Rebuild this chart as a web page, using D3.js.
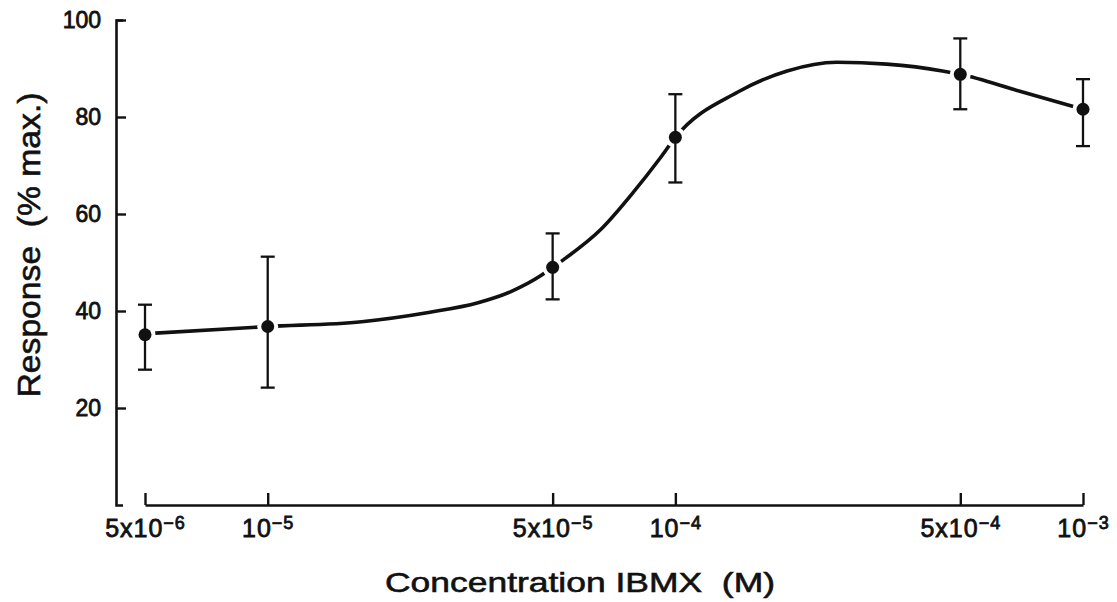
<!DOCTYPE html>
<html>
<head>
<meta charset="utf-8">
<script src="https://cdn.jsdelivr.net/npm/d3@7"></script>
<style>
  html, body { margin: 0; padding: 0; background: #ffffff; }
  svg { display: block; }
  text { font-family: "Liberation Sans", Arial, Helvetica, sans-serif; fill: #111; }
</style>
</head>
<body>
<svg id="chart" width="1117" height="602"></svg>
<script>
// IBMX concentration (M) and mean response (% of max.) with error bar limits
const concentrations = [5e-6, 1e-5, 5e-5, 1e-4, 5e-4, 1e-3];
const responses      = [35.1, 36.8, 49.0, 75.8, 88.8, 81.6];
const errorHigh      = [41.3, 51.2, 56.0, 84.7, 96.2, 87.8];
const errorLow       = [27.9, 24.2, 42.4, 66.5, 81.6, 74.0];

// Fitted dose-response curve
const fitConc = [5e-6, 1e-5, 1.7e-5, 2.48e-5, 3.28e-5, 3.95e-5, 4.68e-5, 5e-5, 5.32e-5,
                 6.56e-5, 7.89e-5, 9.19e-5, 1e-4, 1.42e-4, 1.88e-4, 2.49e-4, 3.3e-4,
                 4.52e-4, 5e-4, 7e-4, 1e-3];
const fitResp = [35.3, 36.8, 37.8, 39.7, 41.7, 44.0, 47.3, 49.0, 50.6,
                 56.8, 64.5, 71.6, 75.8, 85.1, 89.5, 91.3, 90.9,
                 89.5, 88.8, 85.3, 81.6];

// Axis ticks
const xTickValues = [5e-6, 1e-5, 5e-5, 1e-4, 5e-4, 1e-3];
const xTickBase   = ["5x10", "10", "5x10", "10", "5x10", "10"];
const xTickExp    = ["\u22126", "\u22125", "\u22125", "\u22124", "\u22124", "\u22123"];
const yTickValues = [20, 40, 60, 80, 100];

const xTitle = "Concentration IBMX\u00a0\u00a0(M)";
const yTitle = "Response\u00a0\u00a0(% max.)";

const svg = d3.select("#chart");

const x = d3.scaleLog().domain([5e-6, 1e-3]).range([145, 1083]);
const y = d3.scaleLinear().domain([0, 100]).range([505, 20]);

// Y axis: ticks point inward, labels on the left
const yAxis = svg.append("g")
  .attr("transform", "translate(116,0)")
  .call(d3.axisLeft(y).tickValues(yTickValues).tickSize(-10).tickSizeOuter(-7).tickPadding(15));
yAxis.select(".domain").attr("stroke", "#111").attr("stroke-width", 2.6).attr("fill", "none");
yAxis.selectAll(".tick line").attr("stroke", "#111").attr("stroke-width", 2.4);
yAxis.selectAll(".tick text")
  .attr("font-size", 23).attr("fill", "#111")
  .attr("stroke", "#111").attr("stroke-width", 0.8);

// X axis: separate baseline with upward ticks
const xAxis = svg.append("g")
  .attr("transform", "translate(0,505)")
  .call(d3.axisBottom(x).tickValues(xTickValues).tickSize(-12).tickSizeOuter(0).tickPadding(14));
xAxis.select(".domain").attr("stroke", "#111").attr("stroke-width", 2.6).attr("fill", "none");
xAxis.selectAll(".tick line").attr("stroke", "#111").attr("stroke-width", 2.4);
xAxis.selectAll(".tick text").each(function(d, i) {
  const t = d3.select(this);
  t.text(null)
    .attr("font-size", 25).attr("fill", "#111")
    .attr("letter-spacing", 1)
    .attr("stroke", "#111").attr("stroke-width", 0.8);
  t.append("tspan").text(xTickBase[i]);
  t.append("tspan").attr("font-size", 18).attr("dy", "-0.45em").text(xTickExp[i]);
});

// Fitted curve
const line = d3.line()
  .x((d, i) => x(fitConc[i]))
  .y((d, i) => y(fitResp[i]))
  .curve(d3.curveMonotoneX);

svg.append("path")
  .datum(fitResp)
  .attr("d", line)
  .attr("fill", "none")
  .attr("stroke", "#111")
  .attr("stroke-width", 3.6)
  .attr("stroke-linecap", "round");

// White gaps where the curve meets each point
svg.append("g").selectAll("circle")
  .data(responses)
  .join("circle")
  .attr("cx", (d, i) => x(concentrations[i]))
  .attr("cy", d => y(d))
  .attr("r", 10.5)
  .attr("fill", "#ffffff");

// Error bars
const bars = svg.append("g").attr("stroke", "#111").attr("stroke-width", 2.3);
bars.selectAll("line.v")
  .data(responses)
  .join("line").attr("class", "v")
  .attr("x1", (d, i) => x(concentrations[i]))
  .attr("x2", (d, i) => x(concentrations[i]))
  .attr("y1", (d, i) => y(errorHigh[i]))
  .attr("y2", (d, i) => y(errorLow[i]));
bars.selectAll("line.top")
  .data(errorHigh)
  .join("line").attr("class", "top")
  .attr("x1", (d, i) => x(concentrations[i]) - 7)
  .attr("x2", (d, i) => x(concentrations[i]) + 7)
  .attr("y1", d => y(d))
  .attr("y2", d => y(d));
bars.selectAll("line.bottom")
  .data(errorLow)
  .join("line").attr("class", "bottom")
  .attr("x1", (d, i) => x(concentrations[i]) - 7)
  .attr("x2", (d, i) => x(concentrations[i]) + 7)
  .attr("y1", d => y(d))
  .attr("y2", d => y(d));

// Mean points
svg.append("g").selectAll("circle")
  .data(responses)
  .join("circle")
  .attr("cx", (d, i) => x(concentrations[i]))
  .attr("cy", d => y(d))
  .attr("r", 6.5)
  .attr("fill", "#111");

// Axis titles
svg.append("text")
  .attr("x", 580).attr("y", 592)
  .attr("text-anchor", "middle")
  .attr("font-size", 28)
  .attr("textLength", 390).attr("lengthAdjust", "spacingAndGlyphs")
  .attr("stroke", "#111").attr("stroke-width", 0.6)
  .text(xTitle);

svg.append("text")
  .attr("transform", "translate(40,245) rotate(-90)")
  .attr("text-anchor", "middle")
  .attr("font-size", 32)
  .attr("textLength", 305).attr("lengthAdjust", "spacingAndGlyphs")
  .attr("stroke", "#111").attr("stroke-width", 0.6)
  .text(yTitle);
</script>
</body>
</html>
